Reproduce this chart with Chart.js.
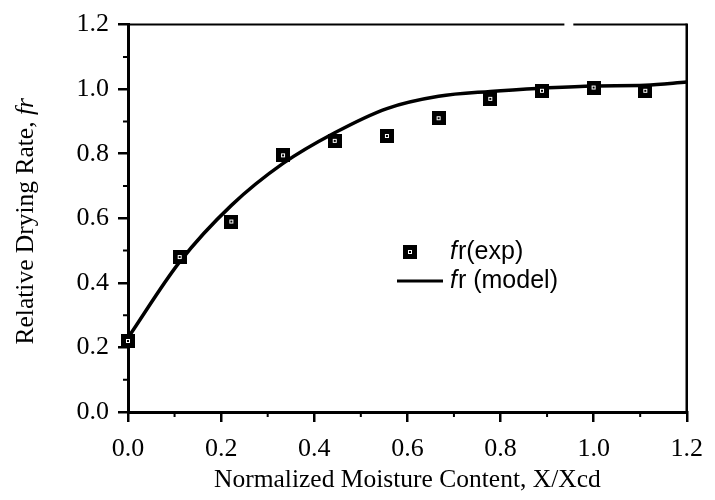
<!DOCTYPE html>
<html lang="en">
<head>
<meta charset="UTF-8">
<title>Relative Drying Rate vs Normalized Moisture Content</title>
<style>
    body {
        margin: 0;
        background-color: #ffffff;
    }
    .chart-box {
        width: 715px;
        height: 500px;
    }
</style>
</head>
<body>
<div class="chart-box"><canvas id="dryingChart"></canvas></div>

<script src="https://cdn.jsdelivr.net/npm/chart.js"></script>
<script>
    // experimental points, fr(exp)
    const expX = [0, 0.111, 0.222, 0.333, 0.444, 0.556, 0.667, 0.778, 0.889, 1.0, 1.111];
    const expY = [0.22, 0.48, 0.59, 0.795, 0.84, 0.855, 0.91, 0.97, 0.995, 1.005, 0.995];

    // model curve, fr (model)
    const modelX = [0, 0.111, 0.222, 0.333, 0.444, 0.556, 0.667, 0.778, 0.889, 1.0, 1.111, 1.2];
    const modelY = [0.23, 0.465, 0.64, 0.77, 0.865, 0.94, 0.978, 0.993, 1.003, 1.01, 1.012, 1.022];

    const xTicks = [0, 0.2, 0.4, 0.6, 0.8, 1.0, 1.2];
    const yTicks = [0, 0.2, 0.4, 0.6, 0.8, 1.0, 1.2];
    const minorTicks = [0.1, 0.3, 0.5, 0.7, 0.9, 1.1];

    const serif = "'Liberation Serif', 'Times New Roman', serif";
    const sans = "'Liberation Sans', Arial, sans-serif";

    // black square marker with a small white ring
    const marker = document.createElement('canvas');
    marker.width = 14;
    marker.height = 14;
    (function () {
        const m = marker.getContext('2d');
        m.fillStyle = '#000';
        m.fillRect(0, 0, 14, 14);
        m.fillStyle = '#fff';
        m.fillRect(5, 5, 4, 4);
        m.fillStyle = '#000';
        m.fillRect(6, 6, 2, 2);
    })();

    const toPoints = (xs, ys) => xs.map((x, i) => ({ x: x, y: ys[i] }));

    // frame, minor ticks, y title with italic fr, and the inset legend
    const extras = {
        id: 'extras',
        afterDraw(chart) {
            const ctx = chart.ctx;
            const { left, top, right, bottom } = chart.chartArea;
            const xs = chart.scales.x;
            const ys = chart.scales.y;
            ctx.save();
            ctx.strokeStyle = '#000';
            ctx.lineCap = 'butt';

            // top and right border
            ctx.lineWidth = 2;
            ctx.beginPath();
            ctx.moveTo(left, top);
            ctx.lineTo(left + (right - left) * 0.781, top);
            ctx.moveTo(left + (right - left) * 0.797, top);
            ctx.lineTo(right, top);
            ctx.stroke();
            ctx.lineWidth = 2.5;
            ctx.beginPath();
            ctx.moveTo(right, top - 1);
            ctx.lineTo(right, bottom);
            ctx.stroke();

            // minor ticks
            ctx.lineWidth = 2;
            ctx.beginPath();
            minorTicks.forEach(v => {
                const px = xs.getPixelForValue(v);
                ctx.moveTo(px, bottom);
                ctx.lineTo(px, bottom + 5);
                const py = ys.getPixelForValue(v);
                ctx.moveTo(left - 5, py);
                ctx.lineTo(left, py);
            });
            ctx.stroke();

            // y axis title
            ctx.fillStyle = '#000';
            ctx.textBaseline = 'middle';
            ctx.textAlign = 'left';
            const plain = 'Relative Drying Rate, ';
            const ital = 'fr';
            const fPlain = '25.5px ' + serif;
            const fItal = 'italic 25.5px ' + serif;
            ctx.font = fPlain;
            const w1 = ctx.measureText(plain).width;
            ctx.font = fItal;
            const w2 = ctx.measureText(ital).width;
            ctx.translate(26, (top + bottom) / 2 + 3);
            ctx.rotate(-Math.PI / 2);
            ctx.font = fPlain;
            ctx.fillText(plain, -(w1 + w2) / 2, 0);
            ctx.font = fItal;
            ctx.fillText(ital, -(w1 + w2) / 2 + w1, 0);
            ctx.setTransform(1, 0, 0, 1, 0, 0);

            // legend
            const lx = 410, ly = 252, tx = 450, gap = 29;
            const sets = chart.data.datasets;
            ctx.drawImage(marker, lx - 7, ly - 7);
            ctx.lineWidth = 3;
            ctx.beginPath();
            ctx.moveTo(397, ly + gap);
            ctx.lineTo(443, ly + gap);
            ctx.stroke();
            sets.forEach((ds, i) => {
                const y = ly + i * gap;
                ctx.font = 'italic 25px ' + sans;
                ctx.fillText('f', tx, y);
                const fw = ctx.measureText('f').width;
                ctx.font = '25px ' + sans;
                ctx.fillText(ds.label.slice(1), tx + fw + 1, y);
            });
            ctx.restore();
        }
    };

    new Chart(document.getElementById('dryingChart'), {
        type: 'scatter',
        data: {
            datasets: [
                {
                    label: 'fr(exp)',
                    data: toPoints(expX, expY),
                    pointStyle: marker,
                    showLine: false,
                    clip: false
                },
                {
                    label: 'fr (model)',
                    data: toPoints(modelX, modelY),
                    showLine: true,
                    borderColor: '#000',
                    borderWidth: 3.5,
                    pointRadius: 0,
                    cubicInterpolationMode: 'monotone',
                    clip: false
                }
            ]
        },
        options: {
            responsive: true,
            maintainAspectRatio: false,
            animation: false,
            layout: { padding: { left: 0, right: 22, top: 18, bottom: 0 } },
            plugins: {
                legend: { display: false },
                tooltip: { enabled: false }
            },
            scales: {
                x: {
                    type: 'linear',
                    min: 0,
                    max: 1.2,
                    afterBuildTicks: s => { s.ticks = xTicks.map(v => ({ value: v })); },
                    afterFit: s => { s.height = 88; },
                    grid: { drawOnChartArea: false, tickLength: 10, lineWidth: 2.5, color: '#000' },
                    border: { color: '#000', width: 3 },
                    ticks: {
                        color: '#000',
                        padding: 12,
                        maxRotation: 0,
                        autoSkip: false,
                        font: { family: serif, size: 26 },
                        callback: v => v.toFixed(1)
                    },
                    title: {
                        display: true,
                        text: 'Normalized Moisture Content, X/Xcd',
                        color: '#000',
                        font: { family: serif, size: 25.5 },
                        padding: { top: 0, bottom: 4 }
                    }
                },
                y: {
                    type: 'linear',
                    min: 0,
                    max: 1.2,
                    afterBuildTicks: s => { s.ticks = yTicks.map(v => ({ value: v })); },
                    afterFit: s => { s.width = 128; },
                    grid: { drawOnChartArea: false, tickLength: 10, lineWidth: 2.5, color: '#000' },
                    border: { color: '#000', width: 3 },
                    ticks: {
                        color: '#000',
                        padding: 9,
                        autoSkip: false,
                        font: { family: serif, size: 26 },
                        callback: v => v.toFixed(1)
                    }
                }
            }
        },
        plugins: [extras]
    });
</script>
</body>
</html>
